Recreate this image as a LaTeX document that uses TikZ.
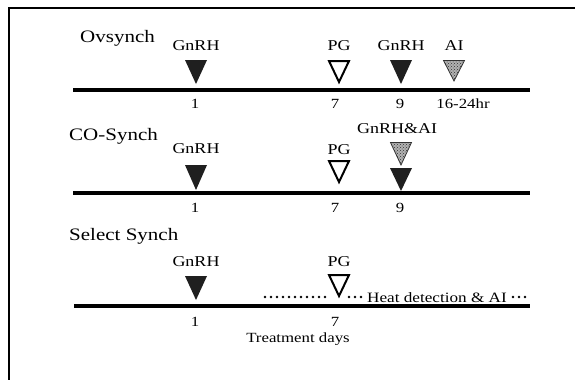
\documentclass[tikz,border=0pt]{standalone}
\usepackage{fontspec}
\setmainfont{Liberation Serif}[FakeStretch=1.2]
\usetikzlibrary{patterns}
\begin{document}
\begin{tikzpicture}[x=1pt,y=-1pt,
  title/.style={anchor=base west,inner sep=0pt,font=\fontsize{17.5}{20}\selectfont},
  lab/.style={anchor=base,inner sep=0pt,font=\fontsize{15}{18}\selectfont},
  num/.style={anchor=base,inner sep=0pt,font=\fontsize{14}{16}\selectfont},
  heat/.style={anchor=base west,inner sep=0pt,font=\fontsize{14.3}{16}\selectfont},
  axis/.style={line width=3.2pt},
  frame/.style={line width=1.8pt},
  dotline/.style={line width=2.8pt,line cap=round,dash pattern=on 0pt off 6pt},
  blk/.pic={\fill[black!88] (-11,0) -- (11,0) -- (0,#1) -- cycle;},
  opn/.pic={\draw[line width=2pt,fill=white,line join=miter] (-10,1) -- (10,1) -- (0,#1-2) -- cycle;},
  gry/.pic={\fill[black!30] (-10.5,0.5) -- (10.5,0.5) -- (0,#1) -- cycle;
            \draw[black!80,line width=0.8pt,pattern=crosshatch dots,pattern color=black!80] (-10.5,0.5) -- (10.5,0.5) -- (0,#1) -- cycle;}
]
\useasboundingbox (0,0) rectangle (575,380);
% frame (top and left edges)
\coordinate (ftl) at (9,8);
\coordinate (ftr) at (575,8);
\coordinate (fbl) at (9,380);
\draw[frame] (ftr) -- (ftl) -- (fbl);

% ---------- Ovsynch ----------
\node[title] (ovs) at (80,42) {Ovsynch};
\node[lab] (g1) at (196,50) {GnRH};
\node[lab] (pg1) at (339,50) {PG};
\node[lab] (g1b) at (401,50) {GnRH};
\node[lab] (ai1) at (454,50) {AI};
\pic (t1a) at (196,60) {blk=24};
\pic (t1b) at (339,60) {opn=24};
\pic (t1c) at (401,60) {blk=24};
\pic (t1d) at (454,60) {gry=21};
\coordinate (l1a) at (73,90);
\coordinate (l1b) at (530,90);
\draw[axis] (l1a) -- (l1b);
\node[num] (n1a) at (195,108) {1};
\node[num] (n1b) at (335,108) {7};
\node[num] (n1c) at (400,108) {9};
\node[num] (n1d) at (463,108) {16-24hr};

% ---------- CO-Synch ----------
\node[title] (co) at (69,140) {CO-Synch};
\node[lab] (g2) at (196,153) {GnRH};
\node[lab] (pg2) at (339,154) {PG};
\node[lab] (ga2) at (397,133) {GnRH\&AI};
\pic (t2a) at (196,165) {blk=25};
\pic (t2b) at (339,160) {opn=24};
\pic (t2c) at (401,142) {gry=23};
\pic (t2d) at (401,168) {blk=23};
\coordinate (l2a) at (73,193);
\coordinate (l2b) at (530,193);
\draw[axis] (l2a) -- (l2b);
\node[num] (n2a) at (195,212) {1};
\node[num] (n2b) at (335,212) {7};
\node[num] (n2c) at (400,212) {9};

% ---------- Select Synch ----------
\node[title] (sel) at (69,240) {Select Synch};
\node[lab] (g3) at (196,266) {GnRH};
\node[lab] (pg3) at (339,266) {PG};
\pic (t3a) at (196,276) {blk=24};
\pic (t3b) at (339,274) {opn=24};
\coordinate (d1) at (265,297);
\coordinate (d2) at (330,297);
\coordinate (d3) at (349,297);
\coordinate (d4) at (361,297);
\coordinate (d5) at (513,297);
\coordinate (d6) at (525,297);
\draw[dotline] (d1) -- (d2);
\draw[dotline] (d3) -- (d4);
\node[heat] (ht) at (367,302) {Heat detection \& AI};
\draw[dotline] (d5) -- (d6);
\coordinate (l3a) at (74,306);
\coordinate (l3b) at (530,306);
\draw[axis] (l3a) -- (l3b);
\node[num] (n3a) at (195,326) {1};
\node[num] (n3b) at (335,326) {7};
\node[num] (td) at (298,342) {Treatment days};
\end{tikzpicture}
\end{document}
